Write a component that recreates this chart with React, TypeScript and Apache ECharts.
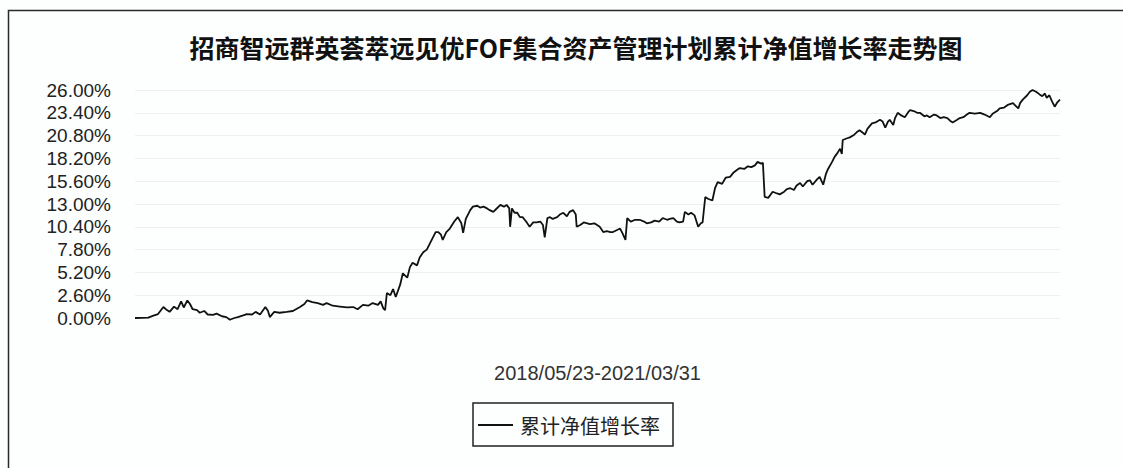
import React, { useEffect, useRef } from "react";
import * as echarts from "echarts";

const chartTitle = "招商智远群英荟萃远见优FOF集合资产管理计划累计净值增长率走势图";
const periodLabel = "2018/05/23-2021/03/31";
const seriesName = "累计净值增长率";

// days since 2018/05/23
const dayOffsets = [
  0, 8, 15, 20, 26, 32, 36, 39, 44, 48, 52, 55, 59, 62, 65, 70, 73, 78, 82, 88,
  92, 98, 103, 107, 112, 116, 122, 126, 132, 136, 141, 147, 150, 152, 157, 163, 171, 178, 186, 191,
  194, 200, 206, 212, 216, 223, 231, 239, 246, 251, 257, 263, 268, 274, 277, 280, 282, 284, 288, 291,
  294, 299, 302, 307, 310, 313, 318, 321, 325, 329, 333, 336, 339, 342, 345, 347, 351, 355, 360, 364,
  368, 370, 373, 378, 381, 386, 389, 393, 397, 400, 404, 407, 412, 416, 419, 422, 423, 425, 428, 431,
  434, 437, 441, 445, 449, 453, 457, 460, 462, 465, 468, 471, 476, 479, 483, 487, 490, 494, 497, 498,
  502, 506, 510, 513, 518, 521, 524, 528, 532, 536, 539, 543, 547, 550, 553, 555, 559, 564, 569, 574,
  577, 582, 586, 591, 595, 600, 603, 607, 611, 614, 618, 620, 624, 627, 631, 635, 638, 640, 643, 646,
  651, 654, 657, 662, 666, 671, 675, 679, 682, 687, 691, 695, 699, 702, 706, 708, 710, 714, 719, 724,
  727, 732, 735, 739, 743, 746, 750, 753, 758, 761, 764, 769, 772, 776, 779, 781, 786, 789, 792, 795,
  797, 798, 803, 806, 811, 814, 817, 821, 823, 826, 831, 835, 840, 843, 846, 849, 851, 855, 857, 860,
  864, 868, 872, 874, 878, 882, 885, 890, 893, 896, 901, 904, 908, 912, 916, 919, 922, 927, 930, 934,
  938, 941, 947, 953, 958, 964, 967, 972, 975, 980, 984, 990, 993, 996, 998, 1001, 1006, 1009, 1012, 1016,
  1020, 1023, 1026, 1028, 1031, 1034, 1037, 1040, 1043,
];

// cumulative NAV growth rate, %
const growthRates = [
  0.0, 0.02, 0.05, 0.25, 0.45, 1.25, 0.9, 0.7, 1.3, 1.0, 1.9, 1.2, 2.0, 1.6, 1.0, 0.9, 0.6, 0.8, 0.4, 0.35,
  0.5, 0.2, 0.1, -0.2, 0.0, 0.1, 0.3, 0.45, 0.4, 0.7, 0.4, 1.25, 0.8, 0.1, 0.7, 0.6, 0.7, 0.8, 1.25, 1.6,
  2.0, 1.8, 1.7, 1.5, 1.7, 1.4, 1.3, 1.2, 1.25, 1.0, 1.5, 1.4, 1.7, 1.5, 1.9, 1.1, 0.9, 2.85, 2.6, 3.3,
  2.4, 3.8, 5.1, 4.6, 5.8, 6.3, 6.0, 6.9, 7.5, 7.8, 8.6, 9.2, 9.8, 9.8, 9.5, 8.9, 9.8, 10.2, 11.0, 11.5,
  10.8, 9.7, 11.3, 12.3, 12.7, 12.8, 12.6, 12.7, 12.5, 12.3, 12.1, 12.4, 12.9, 12.7, 12.9, 12.5, 10.4, 12.5, 12.0, 12.0,
  11.5, 11.5, 11.0, 10.4, 10.9, 10.9, 11.0, 10.6, 9.2, 11.4, 11.5, 11.3, 11.5, 11.8, 12.0, 11.6, 12.1, 12.3, 11.8, 10.4,
  10.6, 10.9, 10.8, 10.7, 10.8, 10.6, 10.4, 9.8, 9.9, 9.8, 9.8, 10.0, 10.2, 9.6, 8.9, 11.4, 11.0, 11.2, 11.2, 11.0,
  10.8, 10.9, 11.1, 11.0, 11.4, 11.2, 11.3, 11.4, 11.0, 10.9, 11.0, 12.1, 11.8, 12.0, 11.7, 10.4, 10.8, 10.9, 13.8, 13.6,
  13.4, 14.8, 15.5, 15.3, 16.0, 16.1, 16.6, 16.9, 17.1, 17.0, 17.3, 17.2, 17.4, 17.8, 17.6, 17.7, 13.8, 13.7, 14.4, 14.2,
  14.1, 14.4, 14.7, 14.8, 14.6, 15.1, 15.4, 15.0, 15.6, 15.7, 15.2, 15.8, 16.1, 15.2, 16.4, 16.9, 17.8, 18.4, 18.8, 19.3,
  18.7, 20.3, 20.5, 20.6, 20.9, 21.2, 21.4, 21.1, 20.9, 21.6, 22.2, 22.3, 22.6, 22.4, 21.7, 22.4, 22.6, 22.0, 22.8, 23.4,
  23.1, 22.9, 23.5, 23.7, 23.6, 23.4, 23.4, 23.0, 23.1, 22.9, 23.2, 23.1, 22.8, 22.9, 22.8, 22.5, 22.3, 22.6, 22.8, 22.9,
  23.2, 23.4, 23.3, 23.4, 23.2, 22.9, 23.3, 23.6, 23.9, 24.0, 24.3, 24.5, 24.2, 23.9, 24.5, 24.9, 25.4, 25.8, 26.0, 25.8,
  25.5, 25.3, 25.6, 25.1, 25.4, 24.7, 24.1, 24.6, 24.9,
];

const yMin = 0;
const yMax = 26;
const yStep = 2.6;
const totalDays = 1043;

export default function App() {
  const ref = useRef<HTMLDivElement>(null);

  useEffect(() => {
    document.body.style.margin = "0";
    if (!ref.current) return;
    const chart = echarts.init(ref.current, undefined, { renderer: "svg" });
    const data = dayOffsets.map((d, i) => [d, growthRates[i]]);
    chart.setOption({
      animation: false,
      backgroundColor: "#fdfefe",
      graphic: [
        {
          type: "rect",
          shape: { x: 8.5, y: 10.5, width: 1125, height: 470 },
          style: { fill: "none", stroke: "#2a2a2a", lineWidth: 1.5 },
          z: 10,
        },
        {
          type: "text",
          x: 576,
          y: 47,
          style: {
            text: chartTitle,
            fontFamily: "Noto Sans CJK SC",
            fontWeight: "bold",
            fontSize: 25,
            fill: "#111",
            textAlign: "center",
            textVerticalAlign: "middle",
          },
        },
      ],
      grid: { left: 135, top: 90, width: 925, height: 228, containLabel: false },
      xAxis: {
        type: "value",
        min: 0,
        max: totalDays,
        name: periodLabel,
        nameLocation: "middle",
        nameGap: 45,
        nameTextStyle: { fontFamily: "Liberation Sans", fontSize: 20, color: "#333" },
        axisLine: { show: false },
        axisTick: { show: false },
        axisLabel: { show: false },
        splitLine: { show: false },
      },
      yAxis: {
        type: "value",
        min: yMin,
        max: yMax,
        interval: yStep,
        axisLine: { show: false },
        axisTick: { show: false },
        axisLabel: {
          margin: 24,
          fontFamily: "Liberation Sans",
          fontSize: 19,
          color: "#222",
          formatter: (v: number) => v.toFixed(2) + "%",
        },
        splitLine: { lineStyle: { color: "#eef1f2", width: 1 } },
      },
      legend: {
        show: true,
        left: 473,
        top: 403,
        orient: "horizontal",
        borderColor: "#222",
        borderWidth: 1.5,
        padding: [12, 13, 11, 5],
        itemWidth: 35,
        itemHeight: 2,
        itemGap: 0,
        icon: "rect",
        textStyle: { fontFamily: "Noto Sans CJK SC", fontSize: 20, color: "#222", padding: [0, 0, 0, 2] },
        data: [seriesName],
      },
      series: [
        {
          name: seriesName,
          type: "line",
          data,
          showSymbol: false,
          symbol: "none",
          clip: false,
          lineStyle: { color: "#111", width: 1.8 },
          itemStyle: { color: "#111" },
        },
      ],
    });
    return () => chart.dispose();
  }, []);

  return <div ref={ref} style={{ width: 1123, height: 468 }} />;
}
